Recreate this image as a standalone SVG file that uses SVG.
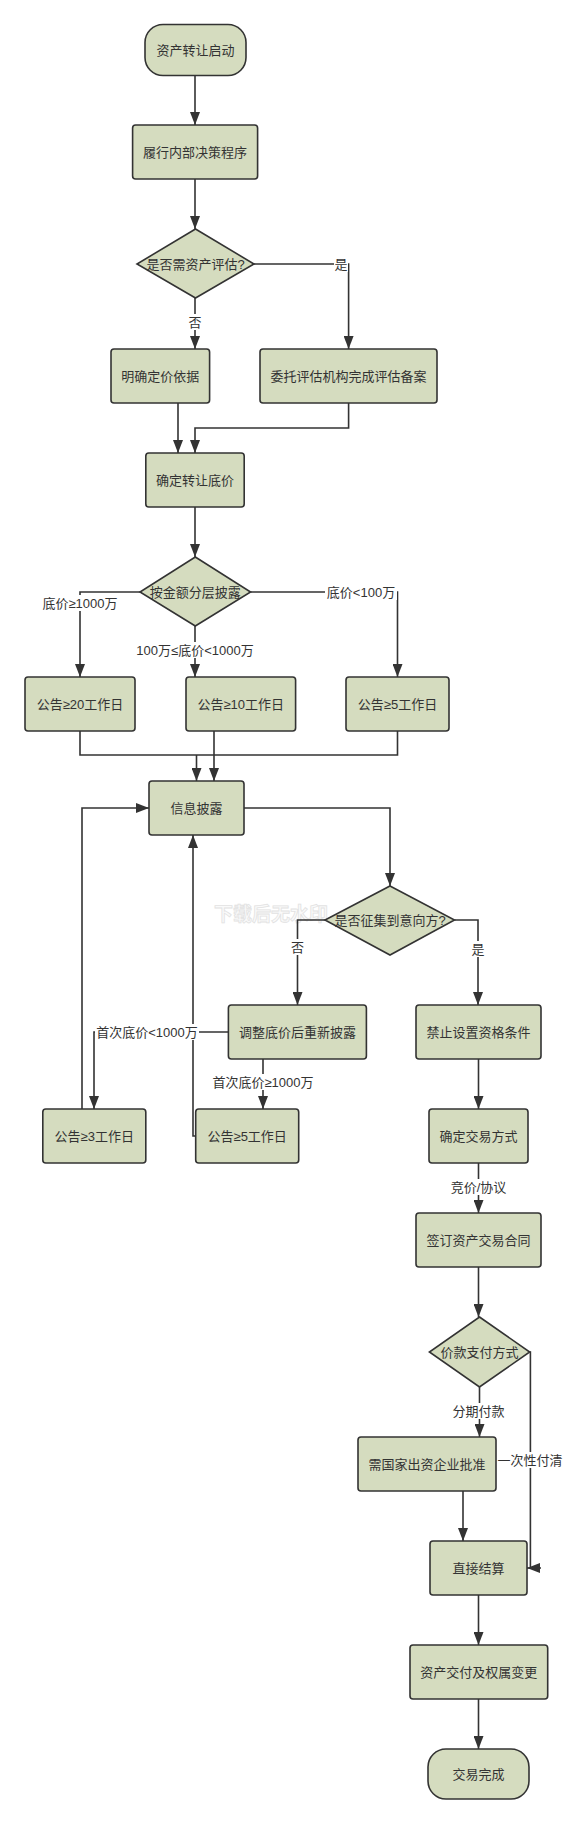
<svg xmlns="http://www.w3.org/2000/svg" width="586" height="1824" viewBox="0 0 586 1824">
<style>
.n{fill:#d5dcbf;stroke:#333;stroke-width:1.6}
.t{font-family:"Liberation Sans","Noto Sans CJK SC",sans-serif;font-size:13px;fill:#333;text-anchor:middle;dominant-baseline:central}
.c{fill:none;stroke:#333;stroke-width:1.6}
.lb{fill:#fff}
.wm{font-family:"Noto Sans CJK SC",sans-serif;font-size:19px;font-weight:bold;fill:#fafafa;stroke:#e2e2e2;stroke-width:0.8;dominant-baseline:central}
</style>
<defs>
<marker id="ar" markerUnits="userSpaceOnUse" markerWidth="13" markerHeight="10" refX="13" refY="5" orient="auto">
<path d="M0,0 L13,5 L0,10 z" fill="#333"/>
</marker>
</defs>
<rect width="586" height="1824" fill="#fff"/>
<text class="wm" x="214" y="912">下载后无水印</text>
<g id="connectors">
<path class="c" d="M195,75 V125" marker-end="url(#ar)"/>
<path class="c" d="M195,179 V229" marker-end="url(#ar)"/>
<path class="c" d="M254,264 H348.6 V349" marker-end="url(#ar)"/>
<path class="c" d="M195,298 V349" marker-end="url(#ar)"/>
<path class="c" d="M178,403 V453" marker-end="url(#ar)"/>
<path class="c" d="M348.6,403 V428 H195 V453" marker-end="url(#ar)"/>
<path class="c" d="M195,507 V557" marker-end="url(#ar)"/>
<path class="c" d="M140,592 H80 V677" marker-end="url(#ar)"/>
<path class="c" d="M195,626 V677" marker-end="url(#ar)"/>
<path class="c" d="M250.6,592 H397.5 V677" marker-end="url(#ar)"/>
<path class="c" d="M80,731 V755 H397.5 V731"/>
<path class="c" d="M196.5,755 V781" marker-end="url(#ar)"/>
<path class="c" d="M214,731 V781" marker-end="url(#ar)"/>
<path class="c" d="M244,808 H390 V886" marker-end="url(#ar)"/>
<path class="c" d="M325,920 H297.5 V1005" marker-end="url(#ar)"/>
<path class="c" d="M454.5,920 H478 V1005" marker-end="url(#ar)"/>
<path class="c" d="M228.4,1032 H94 V1109" marker-end="url(#ar)"/>
<path class="c" d="M263,1059 V1109" marker-end="url(#ar)"/>
<path class="c" d="M82,1109 V808 H149" marker-end="url(#ar)"/>
<path class="c" d="M195.7,1136 H193 V835" marker-end="url(#ar)"/>
<path class="c" d="M478.5,1059 V1109" marker-end="url(#ar)"/>
<path class="c" d="M478.5,1163 V1213" marker-end="url(#ar)"/>
<path class="c" d="M478.5,1267 V1317" marker-end="url(#ar)"/>
<path class="c" d="M479.5,1387 V1437" marker-end="url(#ar)"/>
<path class="c" d="M529.7,1352 H530.4 V1568 M541,1568 H527" marker-end="url(#ar)"/>
<path class="c" d="M463,1491 V1541" marker-end="url(#ar)"/>
<path class="c" d="M478.5,1595 V1645" marker-end="url(#ar)"/>
<path class="c" d="M478.5,1699 V1749" marker-end="url(#ar)"/>
</g>
<g id="labels">
<rect class="lb" x="334" y="256" width="14" height="16"/><text class="t" x="341" y="264">是</text>
<rect class="lb" x="188" y="314" width="14" height="16"/><text class="t" x="195" y="322">否</text>
<rect class="lb" x="40" y="595" width="80" height="16"/><text class="t" x="80" y="603">底价≥1000万</text>
<rect class="lb" x="133" y="642" width="124" height="16"/><text class="t" x="195" y="650">100万≤底价&lt;1000万</text>
<rect class="lb" x="325" y="584" width="72" height="16"/><text class="t" x="361" y="592">底价&lt;100万</text>
<rect class="lb" x="290" y="939" width="15" height="16"/><text class="t" x="297.5" y="947">否</text>
<rect class="lb" x="471" y="941" width="15" height="16"/><text class="t" x="478" y="949">是</text>
<rect class="lb" x="95" y="1024" width="104" height="16"/><text class="t" x="147" y="1032">首次底价&lt;1000万</text>
<rect class="lb" x="210" y="1074" width="106" height="16"/><text class="t" x="263" y="1082">首次底价≥1000万</text>
<rect class="lb" x="449" y="1179" width="59" height="16"/><text class="t" x="478.5" y="1187">竞价/协议</text>
<rect class="lb" x="452" y="1403" width="54" height="16"/><text class="t" x="478.5" y="1411">分期付款</text>
<rect class="lb" x="497" y="1452" width="66" height="16"/><text class="t" x="530" y="1460">一次性付清</text>
</g>
<g id="n1"><rect class="n" x="145" y="24.5" width="101" height="51" rx="18"/><text class="t" x="195.5" y="50">资产转让启动</text></g>
<g id="n2"><rect class="n" x="132.6" y="125" width="125" height="54" rx="3"/><text class="t" x="195" y="152">履行内部决策程序</text></g>
<g id="n3"><polygon class="n" points="195.5,229 254,264 195.5,298 137,264"/><text class="t" x="195.5" y="264">是否需资产评估?</text></g>
<g id="n4"><rect class="n" x="111" y="349" width="98.6" height="54" rx="3"/><text class="t" x="160.3" y="376">明确定价依据</text></g>
<g id="n5"><rect class="n" x="260" y="349" width="177" height="54" rx="3"/><text class="t" x="348.5" y="376">委托评估机构完成评估备案</text></g>
<g id="n6"><rect class="n" x="145.8" y="453" width="98.4" height="54" rx="3"/><text class="t" x="195" y="480">确定转让底价</text></g>
<g id="n7"><polygon class="n" points="195.3,557 250.6,592 195.3,626 140,592"/><text class="t" x="195.3" y="592">按金额分层披露</text></g>
<g id="n8"><rect class="n" x="25" y="677" width="110" height="54" rx="3"/><text class="t" x="80" y="704">公告≥20工作日</text></g>
<g id="n9"><rect class="n" x="186" y="677" width="109.6" height="54" rx="3"/><text class="t" x="240.8" y="704">公告≥10工作日</text></g>
<g id="n10"><rect class="n" x="346" y="677" width="103" height="54" rx="3"/><text class="t" x="397.5" y="704">公告≥5工作日</text></g>
<g id="n11"><rect class="n" x="149" y="781" width="95" height="54" rx="3"/><text class="t" x="196.5" y="808">信息披露</text></g>
<g id="n12"><polygon class="n" points="390,886 454.5,920 390,955 325,920"/><text class="t" x="390" y="920">是否征集到意向方?</text></g>
<g id="n13"><rect class="n" x="228.4" y="1005" width="138" height="54" rx="3"/><text class="t" x="297.4" y="1032">调整底价后重新披露</text></g>
<g id="n14"><rect class="n" x="416" y="1005" width="125" height="54" rx="3"/><text class="t" x="478.5" y="1032">禁止设置资格条件</text></g>
<g id="n15"><rect class="n" x="42.8" y="1109" width="103" height="54" rx="3"/><text class="t" x="94.3" y="1136">公告≥3工作日</text></g>
<g id="n16"><rect class="n" x="195.7" y="1109" width="103" height="54" rx="3"/><text class="t" x="247.2" y="1136">公告≥5工作日</text></g>
<g id="n17"><rect class="n" x="429" y="1109" width="99" height="54" rx="3"/><text class="t" x="478.5" y="1136">确定交易方式</text></g>
<g id="n18"><rect class="n" x="416" y="1213" width="125" height="54" rx="3"/><text class="t" x="478.5" y="1240">签订资产交易合同</text></g>
<g id="n19"><polygon class="n" points="479.5,1317 529.7,1352 479.5,1387 429.4,1352"/><text class="t" x="479.5" y="1352">价款支付方式</text></g>
<g id="n20"><rect class="n" x="358" y="1437" width="138" height="54" rx="3"/><text class="t" x="427" y="1464">需国家出资企业批准</text></g>
<g id="n21"><rect class="n" x="430" y="1541" width="97" height="54" rx="3"/><text class="t" x="478.5" y="1568">直接结算</text></g>
<g id="n22"><rect class="n" x="410" y="1645" width="137.7" height="54" rx="3"/><text class="t" x="478.8" y="1672">资产交付及权属变更</text></g>
<g id="n23"><rect class="n" x="428" y="1749" width="101" height="50" rx="18"/><text class="t" x="478.5" y="1774">交易完成</text></g>
</svg>
